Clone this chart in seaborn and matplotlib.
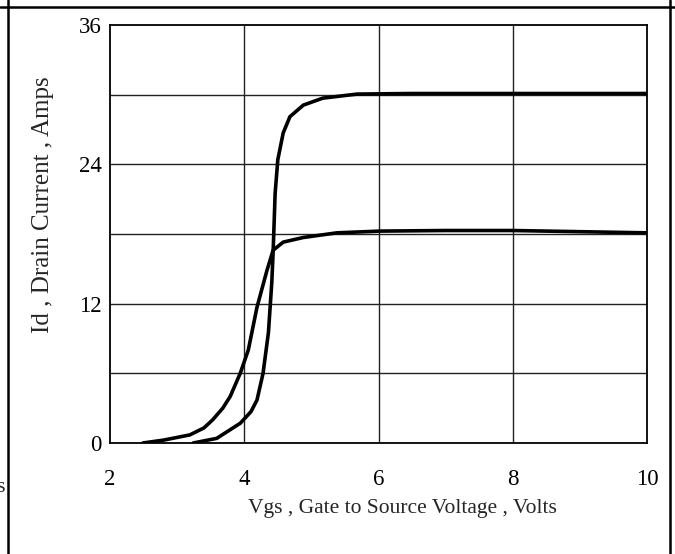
import numpy as np
import matplotlib
matplotlib.use("Agg")
import matplotlib.pyplot as plt
from matplotlib.lines import Line2D
import seaborn as sns

# ── data ────────────────────────────────────────────────────
# curve that saturates near 18 A
vgs_low = [2.49, 2.8, 3.19, 3.4, 3.53, 3.68, 3.79, 3.94, 4.06, 4.19, 4.34, 4.43,
           4.58, 4.88, 5.38, 6.02, 7.0, 8.0, 9.0, 10.0]
id_low = [0.0, 0.25, 0.7, 1.3, 2.0, 3.0, 4.0, 6.0, 8.0, 11.7, 14.9, 16.6,
          17.3, 17.7, 18.1, 18.25, 18.3, 18.3, 18.2, 18.1]

# curve that saturates near 30 A
vgs_high = [3.24, 3.59, 3.94, 4.1, 4.19, 4.28, 4.36, 4.41, 4.43, 4.46, 4.50,
            4.58, 4.68, 4.88, 5.17, 5.68, 6.5, 8.0, 10.0]
id_high = [0.0, 0.4, 1.7, 2.7, 3.7, 6.0, 9.5, 13.8, 16.4, 21.5, 24.4,
           26.7, 28.1, 29.1, 29.7, 30.05, 30.1, 30.1, 30.1]

x_ticks = [2, 4, 6, 8, 10]
y_ticks = [0, 12, 24, 36]
x_grid = [4, 6, 8]
y_grid = [6, 12, 18, 24, 30]

sns.set_style("white")
plt.rcParams["font.family"] = ["Liberation Serif", "DejaVu Serif"]

fig = plt.figure(figsize=(6.75, 5.54), dpi=100)
ax = fig.add_axes([110 / 675, 1 - 443 / 554, 537 / 675, 418 / 554])

for xv in x_grid:
    ax.axvline(xv, color="#222222", lw=1.0, zorder=1)
for yv in y_grid:
    ax.axhline(yv, color="#222222", lw=1.0, zorder=1)

sns.lineplot(x=vgs_low, y=id_low, ax=ax, color="black", lw=2.6, sort=False, zorder=3)
sns.lineplot(x=vgs_high, y=id_high, ax=ax, color="black", lw=2.6, sort=False, zorder=3)

ax.set_xlim(2, 10)
ax.set_ylim(0, 36)
ax.set_xticks(x_ticks)
ax.set_yticks(y_ticks)
ax.tick_params(axis="both", length=0, labelsize=16.5, colors="black")
ax.tick_params(axis="x", pad=19)
ax.tick_params(axis="y", pad=6)
for sp in ax.spines.values():
    sp.set_color("black")
    sp.set_linewidth(1.3)

ax.set_xlabel("Vgs , Gate to Source Voltage , Volts", fontsize=15.5)
ax.set_ylabel("Id , Drain Current , Amps", fontsize=18)
ax.xaxis.set_label_coords((402 - 110) / 537, -(499 - 443) / 418)
ax.yaxis.set_label_coords(-(110 - 54) / 537, (443 - 205) / 418)

# page frame around the chart
fig.add_artist(Line2D([8 / 675, 8 / 675], [0, 1], color="black", lw=1.8))
fig.add_artist(Line2D([670 / 675, 670 / 675], [0, 1], color="black", lw=1.8))
fig.add_artist(Line2D([0, 1], [1 - 7 / 554, 1 - 7 / 554], color="black", lw=1.8))
fig.text(-4 / 675, 1 - 488 / 554, "s", fontsize=16, va="center", ha="left")

fig.savefig("out.png", dpi=100)
